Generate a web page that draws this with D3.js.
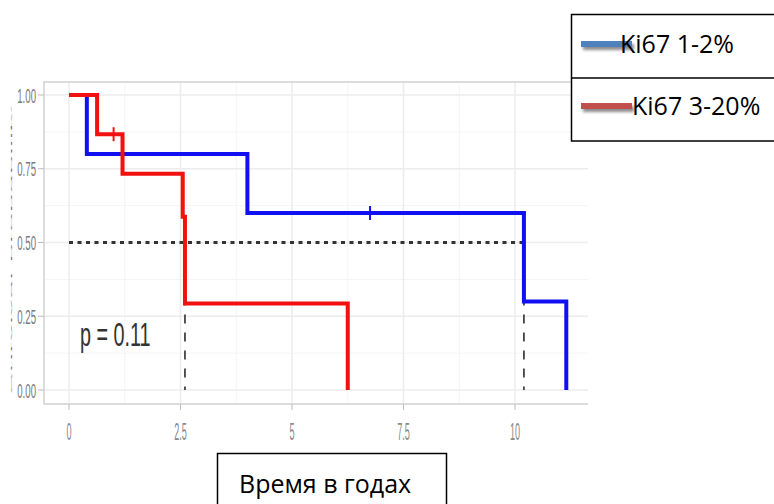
<!DOCTYPE html>
<html>
<head>
<meta charset="utf-8">
<script src="https://cdn.jsdelivr.net/npm/d3@7"></script>
<style>
  body { margin: 0; background: #fff; }
  svg { display: block; }
</style>
</head>
<body>
<svg id="chart" width="774" height="504"></svg>
<script>
// survival curves (time in years, survival probability)
const blueTimes = [0, 0.4, 4.0, 10.2, 11.15];
const blueSurv = [1, 0.8, 0.6, 0.3, 0];
const redTimes = [0, 0.63, 1.2, 2.55, 2.6, 6.25];
const redSurv = [1, 0.867, 0.733, 0.587, 0.293, 0];
// censored observations
const blueCensorTimes = [6.75];
const blueCensorSurv = [0.6];
const redCensorTimes = [1.0];
const redCensorSurv = [0.867];
// median survival times
const medianTimes = [2.6, 10.2];
const xTicks = [0, 2.5, 5, 7.5, 10];
const xTickLabels = ['0', '2.5', '5', '7.5', '10'];
const yTicks = [0, 0.25, 0.5, 0.75, 1];
const yTickLabels = ['0.00', '0.25', '0.50', '0.75', '1.00'];
const legendLabels = ['Ki67 1-2%', 'Ki67 3-20%'];
const pLabel = 'p = 0.11';
const xTitle = 'Время в годах';

const svg = d3.select('#chart');

const x = d3.scaleLinear().domain([0, 10]).range([69, 515]);
const y = d3.scaleLinear().domain([0, 1]).range([390, 95]);

const panel = {left: 44, right: 588, top: 82, bottom: 404};

// shadow for legend keys
const defs = svg.append('defs');
const f = defs.append('filter').attr('id', 'shadow')
    .attr('x', '-20%').attr('y', '-100%').attr('width', '140%').attr('height', '400%');
f.append('feDropShadow').attr('dx', 2).attr('dy', 3).attr('stdDeviation', 1.5)
    .attr('flood-color', '#000').attr('flood-opacity', 0.45);

//grid
const grid = svg.append('g');
const minorX = xTicks.slice(0, -1).map(d => d + 1.25);
const minorY = yTicks.slice(0, -1).map(d => d + 0.125);
grid.selectAll('.mx').data(minorX).enter().append('line')
    .attr('x1', d => x(d)).attr('x2', d => x(d))
    .attr('y1', panel.top).attr('y2', panel.bottom)
    .attr('stroke', '#f4f4f4').attr('stroke-width', 1);
grid.selectAll('.my').data(minorY).enter().append('line')
    .attr('y1', d => y(d)).attr('y2', d => y(d))
    .attr('x1', panel.left).attr('x2', panel.right)
    .attr('stroke', '#f4f4f4').attr('stroke-width', 1);
grid.selectAll('.gx').data(xTicks).enter().append('line')
    .attr('x1', d => x(d)).attr('x2', d => x(d))
    .attr('y1', panel.top).attr('y2', panel.bottom)
    .attr('stroke', '#ececec').attr('stroke-width', 1.5);
grid.selectAll('.gy').data(yTicks).enter().append('line')
    .attr('y1', d => y(d)).attr('y2', d => y(d))
    .attr('x1', panel.left).attr('x2', panel.right)
    .attr('stroke', '#ececec').attr('stroke-width', 1.5);

// panel border
svg.append('path')
    .attr('d', `M${panel.right},${panel.top}H${panel.left}V${panel.bottom}H${panel.right}`)
    .attr('fill', 'none').attr('stroke', '#dcdcdc').attr('stroke-width', 2);

// ticks
svg.selectAll('.xt').data(xTicks).enter().append('line')
    .attr('x1', d => x(d)).attr('x2', d => x(d))
    .attr('y1', panel.bottom).attr('y2', panel.bottom + 6)
    .attr('stroke', '#bbb');
svg.selectAll('.yt').data(yTicks).enter().append('line')
    .attr('y1', d => y(d)).attr('y2', d => y(d))
    .attr('x1', panel.left - 6).attr('x2', panel.left)
    .attr('stroke', '#bbb');

// tick labels (narrow, squeezed)
svg.selectAll('.xl').data(xTicks).enter().append('text')
    .attr('transform', d => `translate(${x(d)},440) scale(0.38,1)`)
    .attr('text-anchor', 'middle')
    .attr('font-family', 'Liberation Sans, Arial, sans-serif')
    .attr('font-size', 24)
    .attr('fill', '#8a8a8a')
    .text((d, i) => xTickLabels[i]);
svg.selectAll('.yl').data(yTicks).enter().append('text')
    .attr('transform', d => `translate(36,${y(d) + 7.5}) scale(0.46,1)`)
    .attr('text-anchor', 'end')
    .attr('font-family', 'Liberation Sans, Arial, sans-serif')
    .attr('font-size', 21)
    .attr('fill', '#7a7a7a')
    .text((d, i) => yTickLabels[i]);

// y axis title, squashed almost to a line
svg.append('text')
    .attr('transform', `translate(12,395) scale(0.25,1) rotate(-90)`)
    .attr('font-family', 'Liberation Sans, Arial, sans-serif')
    .attr('font-size', 10)
    .attr('fill', '#666')
    .attr('textLength', 290)
    .attr('lengthAdjust', 'spacingAndGlyphs')
    .text('Survival probability');

// median lines
const medY = 0.5;
svg.append('line')
    .attr('x1', x(0)).attr('x2', x(d3.max(medianTimes)))
    .attr('y1', y(medY)).attr('y2', y(medY))
    .attr('stroke', '#333').attr('stroke-width', 3)
    .attr('stroke-dasharray', '4,4.5');
svg.selectAll('.med').data(medianTimes).enter().append('line')
    .attr('x1', d => x(d)).attr('x2', d => x(d))
    .attr('y1', y(medY)).attr('y2', y(0))
    .attr('stroke', '#444').attr('stroke-width', 1.8)
    .attr('stroke-dasharray', '9,9');

// curves
const line = d3.line()
    .x(d => x(d[0]))
    .y(d => y(d[1]))
    .curve(d3.curveStepAfter);

function drawCurve(times, surv, ct, cs, color) {
    const pts = times.map((t, i) => [t, surv[i]]);
    svg.append('path')
        .attr('d', line(pts))
        .attr('fill', 'none')
        .attr('stroke', color)
        .attr('stroke-width', 4)
        .attr('stroke-linejoin', 'miter');
    svg.selectAll(null).data(ct).enter().append('line')
        .attr('x1', d => x(d)).attr('x2', d => x(d))
        .attr('y1', (d, i) => y(cs[i]) - 7).attr('y2', (d, i) => y(cs[i]) + 7)
        .attr('stroke', color).attr('stroke-width', 2);
}
drawCurve(blueTimes, blueSurv, blueCensorTimes, blueCensorSurv, '#1010f0');
drawCurve(redTimes, redSurv, redCensorTimes, redCensorSurv, '#f21010');

// p value
svg.append('text')
    .attr('transform', 'translate(80,346) scale(0.6,1)')
    .attr('font-family', 'Liberation Sans, Arial, sans-serif')
    .attr('font-size', 33)
    .attr('fill', '#333')
    .text(pLabel);

// legend box
const legendColors = ['#4f81bd', '#c0504d'];
const lg = svg.append('g');
lg.append('rect').attr('x', 571.5).attr('y', 14.5).attr('width', 210).attr('height', 126.5)
    .attr('fill', '#fff').attr('stroke', '#000').attr('stroke-width', 1.5);
lg.append('line').attr('x1', 571.5).attr('x2', 774).attr('y1', 78).attr('y2', 78)
    .attr('stroke', '#000').attr('stroke-width', 1.5);
const rows = lg.selectAll('.row').data(legendLabels).enter().append('g')
    .attr('transform', (d, i) => `translate(0,${i * 62})`);
rows.append('rect')
    .attr('x', 581).attr('width', 51).attr('y', 41).attr('height', 6)
    .attr('fill', (d, i) => legendColors[i])
    .attr('filter', 'url(#shadow)');
rows.append('text')
    .attr('x', (d, i) => i === 0 ? 620 : 632)
    .attr('y', 53)
    .attr('font-family', 'Open Sans, Carlito, Calibri, sans-serif')
    .attr('font-size', 25)
    .attr('fill', '#000')
    .text(d => d);

// x axis title box
const tb = svg.append('g');
tb.append('rect').attr('x', 217.5).attr('y', 453.5).attr('width', 229).attr('height', 60)
    .attr('fill', '#fff').attr('stroke', '#000').attr('stroke-width', 1.5);
tb.append('text')
    .attr('x', 239).attr('y', 493)
    .attr('font-family', 'Open Sans, Carlito, Calibri, sans-serif')
    .attr('font-size', 25)
    .attr('fill', '#000')
    .text(xTitle);
</script>
</body>
</html>
